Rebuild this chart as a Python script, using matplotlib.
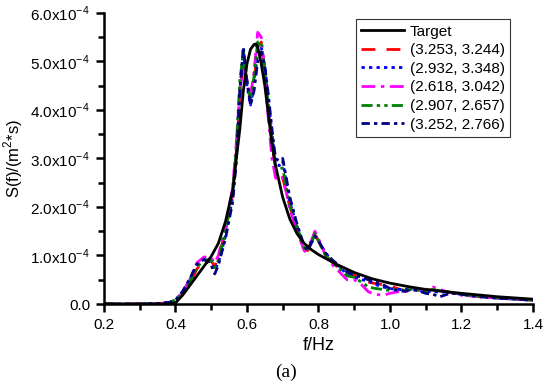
import matplotlib
matplotlib.use("Agg")
import matplotlib.pyplot as plt
from matplotlib.ticker import MultipleLocator, FuncFormatter
import numpy as np

plt.rcParams['font.family'] = ['Liberation Sans', 'DejaVu Sans']
plt.rcParams['mathtext.fontset'] = 'custom'
plt.rcParams['mathtext.rm'] = 'Liberation Sans'

# Target spectrum (values in 1e-4 m^2*s)
f_target = [0.20, 0.30, 0.38, 0.40, 0.42, 0.45, 0.48, 0.50, 0.52, 0.54, 0.56,
            0.58, 0.59, 0.60, 0.61, 0.62, 0.625, 0.63, 0.64, 0.65, 0.66, 0.67,
            0.68, 0.70, 0.72, 0.74, 0.76, 0.78, 0.80, 0.85, 0.90, 0.95, 1.00,
            1.05, 1.10, 1.15, 1.20, 1.30, 1.40]
s_target = [0.0, 0.0, 0.0, 0.02, 0.18, 0.48, 0.78, 0.98, 1.25, 1.7, 2.35,
            3.6, 4.4, 4.95, 5.25, 5.35, 5.36, 5.3, 4.95, 4.5, 3.9, 3.3,
            2.85, 2.2, 1.75, 1.45, 1.25, 1.12, 1.02, 0.82, 0.65, 0.52, 0.43,
            0.36, 0.3, 0.26, 0.22, 0.15, 0.1]

# Simulated spectra
f_sim = [0.20, 0.25, 0.30, 0.35, 0.38, 0.40, 0.42, 0.44, 0.46, 0.48, 0.50,
         0.51, 0.52, 0.54, 0.56, 0.57, 0.58, 0.59, 0.60, 0.61, 0.62, 0.63,
         0.64, 0.65, 0.66, 0.67, 0.68, 0.69, 0.70, 0.71, 0.72, 0.74, 0.76,
         0.77, 0.78, 0.79, 0.80, 0.82, 0.84, 0.86, 0.88, 0.90, 0.92, 0.94,
         0.96, 0.98, 1.00, 1.02, 1.04, 1.06, 1.08, 1.10, 1.12, 1.14, 1.16,
         1.18, 1.20, 1.25, 1.30, 1.35, 1.40]

s_red = [0.0, 0.0, 0.0, 0.01, 0.02, 0.06, 0.2, 0.42, 0.72, 0.9, 0.88,
         0.78, 0.95, 1.5, 2.3, 3.1, 4.2, 5.0, 4.6, 4.25, 4.6, 5.3,
         5.4, 4.8, 4.0, 3.3, 2.8, 2.75, 2.6, 2.3, 2.0, 1.55, 1.15,
         1.1, 1.3, 1.45, 1.3, 1.0, 0.85, 0.72, 0.6, 0.6, 0.48, 0.45,
         0.42, 0.4, 0.38, 0.32, 0.28, 0.3, 0.3, 0.28, 0.3, 0.28, 0.25,
         0.22, 0.2, 0.16, 0.13, 0.1, 0.08]
s_blue = [0.0, 0.0, 0.0, 0.01, 0.03, 0.08, 0.25, 0.5, 0.8, 0.95, 0.85,
          0.7, 0.85, 1.4, 2.2, 3.0, 4.3, 5.25, 4.5, 4.1, 4.5, 5.2,
          5.3, 4.9, 4.2, 3.5, 2.9, 2.85, 2.95, 2.5, 2.1, 1.6, 1.2,
          1.15, 1.3, 1.4, 1.3, 1.05, 0.88, 0.75, 0.62, 0.55, 0.5, 0.48,
          0.4, 0.35, 0.32, 0.3, 0.3, 0.32, 0.28, 0.25, 0.26, 0.24, 0.25,
          0.22, 0.2, 0.15, 0.12, 0.1, 0.08]
s_magenta = [0.0, 0.0, 0.0, 0.01, 0.02, 0.07, 0.25, 0.5, 0.85, 0.97, 0.95,
             0.85, 1.0, 1.6, 2.4, 3.3, 4.4, 4.9, 4.5, 4.3, 4.8, 5.6,
             5.5, 4.7, 3.8, 3.0, 2.6, 2.55, 2.6, 2.3, 1.95, 1.5, 1.1,
             1.05, 1.3, 1.5, 1.35, 1.0, 0.8, 0.65, 0.5, 0.5, 0.4, 0.25,
             0.2, 0.18, 0.22, 0.25, 0.25, 0.28, 0.3, 0.3, 0.35, 0.3, 0.25,
             0.22, 0.18, 0.15, 0.12, 0.1, 0.08]
s_green = [0.0, 0.0, 0.0, 0.01, 0.02, 0.07, 0.22, 0.45, 0.75, 0.92, 0.9,
           0.75, 0.9, 1.5, 2.3, 3.2, 4.6, 5.2, 4.6, 4.2, 4.7, 5.4,
           5.4, 4.8, 4.1, 3.4, 2.85, 2.8, 2.8, 2.4, 2.05, 1.6, 1.15,
           1.1, 1.25, 1.45, 1.3, 1.0, 0.85, 0.72, 0.58, 0.55, 0.45, 0.35,
           0.32, 0.3, 0.28, 0.3, 0.28, 0.3, 0.28, 0.27, 0.3, 0.27, 0.25,
           0.22, 0.2, 0.16, 0.13, 0.1, 0.08]
s_navy = [0.0, 0.0, 0.0, 0.01, 0.03, 0.08, 0.26, 0.52, 0.82, 0.92, 0.8,
          0.62, 0.8, 1.35, 2.1, 2.9, 4.4, 5.3, 4.6, 4.1, 4.4, 5.0,
          5.2, 4.9, 4.3, 3.6, 3.0, 2.95, 3.0, 2.6, 2.2, 1.65, 1.2,
          1.1, 1.25, 1.4, 1.3, 1.05, 0.9, 0.78, 0.66, 0.6, 0.55, 0.5,
          0.45, 0.4, 0.32, 0.28, 0.26, 0.3, 0.27, 0.22, 0.2, 0.15, 0.2,
          0.22, 0.2, 0.15, 0.12, 0.1, 0.08]

labels = ['(3.253, 3.244)', '(2.932, 3.348)', '(2.618, 3.042)',
          '(2.907, 2.657)', '(3.252, 2.766)']
series = [s_red, s_blue, s_magenta, s_green, s_navy]
colors = ['#ff0000', '#0000ff', '#ff00ff', '#008000', '#000080']
dashes = [(5, 4), (1.2, 1.5), (5, 2, 1.2, 2), (4, 1.5, 1.2, 1.5, 1.2, 1.5),
          (3, 1.5, 1.2, 1.5)]

fig = plt.figure(figsize=(5.5, 3.9), dpi=100)
ax = fig.add_axes([0.189, 0.2205, 0.78, 0.7465])

scale = 1e-4
ax.plot(f_target, np.array(s_target) * scale, color='black', lw=2,
        label='Target', zorder=3)
for s, lab, c, d in zip(series, labels, colors, dashes):
    ax.plot(f_sim, np.array(s) * scale, color=c, lw=2, dashes=d, label=lab)

ax.set_xlim(0.2, 1.4)
ax.set_ylim(0, 6e-4)
ax.xaxis.set_major_locator(MultipleLocator(0.2))
ax.xaxis.set_minor_locator(MultipleLocator(0.1))
ax.yaxis.set_major_locator(MultipleLocator(1e-4))
ax.yaxis.set_minor_locator(MultipleLocator(0.5e-4))
ax.xaxis.set_major_formatter(FuncFormatter(lambda v, p: '%.1f' % v))


def yfmt(v, p):
    if abs(v) < 1e-12:
        return '0.0'
    return r'%.1fx10$^{\mathregular{-4}}$' % (v / 1e-4)


ax.yaxis.set_major_formatter(FuncFormatter(yfmt))

for side in ['top', 'right']:
    ax.spines[side].set_visible(False)
for side in ['left', 'bottom']:
    ax.spines[side].set_linewidth(1.8)
ax.tick_params(which='major', direction='out', length=6, width=1.8,
               labelsize=11, pad=4)
ax.tick_params(which='minor', direction='out', length=4, width=1.8)

ax.set_xlabel('f/Hz', fontsize=13, labelpad=4)
ax.set_ylabel(r'S(f)/(m$^{\mathregular{2}}$*s)', fontsize=12, labelpad=4)

leg = ax.legend(loc='upper right', bbox_to_anchor=(0.947, 0.978), fontsize=11,
                frameon=True, fancybox=False, edgecolor='black',
                handlelength=2.8, handletextpad=0.4, labelspacing=0.3,
                borderpad=0.35, borderaxespad=0)
leg.get_frame().set_linewidth(0.8)

fig.text(0.52, 0.045, '(a)', fontsize=14, family='Liberation Serif',
         ha='center', va='center')

fig.savefig('out.png', dpi=100)
